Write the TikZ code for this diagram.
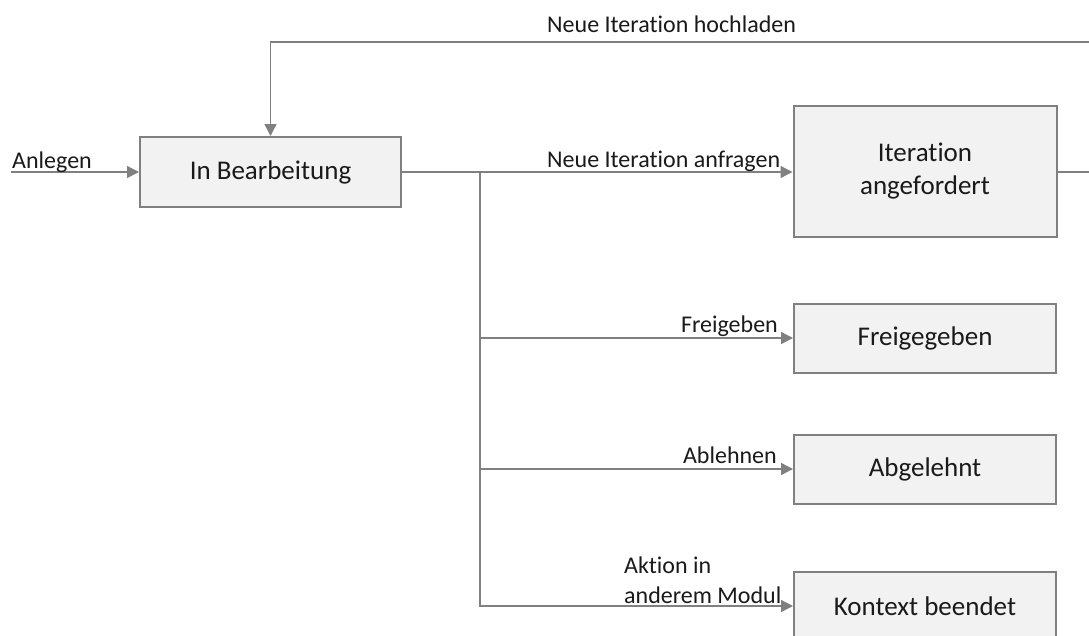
\documentclass[tikz,border=0pt]{standalone}
\usepackage{fontspec}
\setmainfont{Carlito}[Ligatures={NoCommon,NoRare,NoDiscretionary}]
\usetikzlibrary{arrows.meta}
\definecolor{linegray}{HTML}{808080}
\definecolor{boxfill}{HTML}{F2F2F2}
\definecolor{txt}{HTML}{1A1A1A}
\begin{document}
\begin{tikzpicture}[x=1pt,y=-1pt,
  state/.style={draw=linegray,line width=2pt,fill=boxfill,text=txt,align=center,
    font=\fontsize{27}{31}\selectfont,inner sep=0pt},
  conn/.style={draw=linegray,line width=1.3pt,-{Triangle[length=12pt,width=12pt]}},
  lbl/.style={text=txt,font=\fontsize{24}{30}\selectfont,inner sep=0pt}]
\clip (0,0) rectangle (1089,635);
\fill[white] (0,0) rectangle (1089,635);
% states
\node[state,minimum width=261pt,minimum height=70pt] (bear) at (270.5,172) {In Bearbeitung};
\node[state,minimum width=263pt,minimum height=131pt] (iter) at (925,171.5) {Iteration\\[2pt]angefordert};
\node[state,minimum width=262pt,minimum height=69pt] (frei) at (925,338) {Freigegeben};
\node[state,minimum width=262pt,minimum height=69pt] (abge) at (925,469) {Abgelehnt};
\node[state,minimum width=262pt,minimum height=69pt] (kont) at (925,606) {Kontext beendet};
% helper coordinates
\coordinate (start) at (11,172);
\coordinate (fork) at (480,172);
\coordinate (right1) at (1120,172);
\coordinate (right2) at (1120,42);
% connectors
\draw[conn] (start) -- (bear.west);
\draw[conn] (bear.east) -- (iter.west |- bear.east);
\draw[conn] (fork) |- (frei.west);
\draw[conn] (fork) |- (abge.west);
\draw[conn] (fork) |- (kont.west);
\draw[conn] (iter.east |- bear.east) -- (right1) -- (right2) -| (bear.north);
% labels
\node[lbl,anchor=base west] (l1) at (12,168) {Anlegen};
\node[lbl,anchor=base west] (l2) at (547,32) {Neue Iteration hochladen};
\node[lbl,anchor=base west] (l3) at (547,167) {Neue Iteration anfragen};
\node[lbl,anchor=base east] (l4) at (778,332) {Freigeben};
\node[lbl,anchor=base east] (l5) at (777,463) {Ablehnen};
\node[lbl,anchor=base west] (l6) at (624,573) {Aktion in};
\node[lbl,anchor=base west] (l7) at (624,603) {anderem Modul};
\end{tikzpicture}
\end{document}
